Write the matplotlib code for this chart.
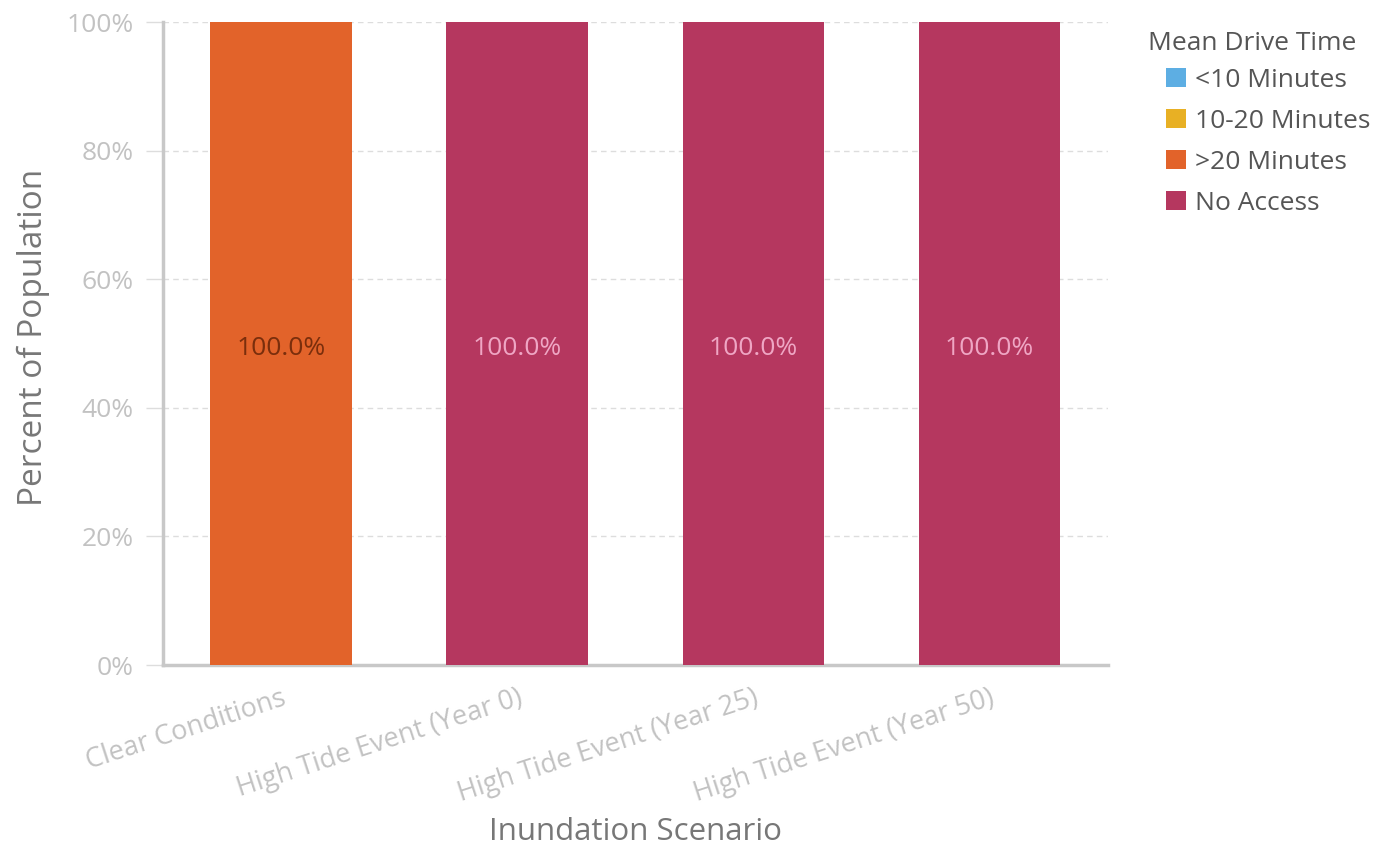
import matplotlib
matplotlib.use("Agg")
import matplotlib.pyplot as plt
from matplotlib.patches import Patch
from matplotlib.transforms import ScaledTranslation
import numpy as np

plt.rcParams['font.family'] = ['Open Sans', 'DejaVu Sans']

categories = ["Clear Conditions", "High Tide Event (Year 0)",
              "High Tide Event (Year 25)", "High Tide Event (Year 50)"]
series_names = ["<10 Minutes", "10-20 Minutes", ">20 Minutes", "No Access"]
under_10 = [0, 0, 0, 0]
from_10_20 = [0, 0, 0, 0]
over_20 = [100, 0, 0, 0]
no_access = [0, 100, 100, 100]
series_values = [under_10, from_10_20, over_20, no_access]
colors = ["#5DAEE3", "#E8B024", "#E2632A", "#B5375F"]
label_colors = ["#1d4f70", "#6b4e00", "#7a2e0c", "#EFA6C4"]
y_ticks = [0, 20, 40, 60, 80, 100]

fig = plt.figure(figsize=(13.82, 8.5), dpi=100)
ax = fig.add_axes([0.118, 0.2176, 0.6835, 0.7564])

x = np.arange(len(categories))
bottom = np.zeros(len(categories))
lab_off = ScaledTranslation(0, -0.05, fig.dpi_scale_trans)
for name, vals, c, lc in zip(series_names, series_values, colors, label_colors):
    vals = np.array(vals, dtype=float)
    ax.bar(x, vals, 0.6, bottom=bottom, color=c, zorder=3)
    for xi, v, b in zip(x, vals, bottom):
        if v > 0:
            ax.text(xi, b + v / 2, f"{v:.1f}%", ha='center', va='center',
                    fontsize=19, color=lc, zorder=4,
                    transform=ax.transData + lab_off)
    bottom += vals

ax.set_xlim(-0.5, 3.5)
ax.set_ylim(0, 100)
ax.set_yticks(y_ticks)
ax.set_yticklabels([f"{t}%" for t in y_ticks])
ax.set_xticks(x)
ax.set_xticklabels(categories, rotation=18, ha='right', rotation_mode='anchor')
offset = ScaledTranslation(0.12, 0.03, fig.dpi_scale_trans)
for lab in ax.get_xticklabels():
    lab.set_transform(lab.get_transform() + offset)

ax.grid(axis='y', color='#DDDDDD', linestyle=(0, (4, 3)), linewidth=1, zorder=0)
for s in ['top', 'right']:
    ax.spines[s].set_visible(False)
ax.spines['left'].set_color('#C8C8C8')
ax.spines['left'].set_linewidth(2.5)
ax.spines['bottom'].set_color('#C8C8C8')
ax.spines['bottom'].set_linewidth(2.5)
ax.tick_params(axis='y', length=12, color='#DDDDDD', width=1, labelsize=19,
               labelcolor='#C2C2C2', pad=9)
ax.tick_params(axis='x', length=0, labelsize=19.5, labelcolor='#C2C2C2', pad=14)

ax.set_ylabel("Percent of Population", fontsize=24, color='#777777', va='center')
ax.yaxis.set_label_coords(-0.137, 0.51)
ax.set_xlabel("Inundation Scenario", fontsize=22.5, color='#777777', va='center')
ax.xaxis.set_label_coords(0.5, -0.26)

fig.text(1148 / 1382, 1 - 44 / 850, "Mean Drive Time", fontsize=19,
         color='#555555', ha='left', va='center')
handles = [Patch(facecolor=c, edgecolor='none') for c in colors]
leg = fig.legend(handles, series_names,
                 loc='upper left', bbox_to_anchor=(1166 / 1382, 1 - 68 / 850),
                 frameon=False, fontsize=19,
                 handlelength=0.75, handleheight=0.75, handletextpad=0.34,
                 labelspacing=0.6, borderpad=0, borderaxespad=0)
for t in leg.get_texts():
    t.set_color('#555555')

fig.savefig("out.png", dpi=100)
